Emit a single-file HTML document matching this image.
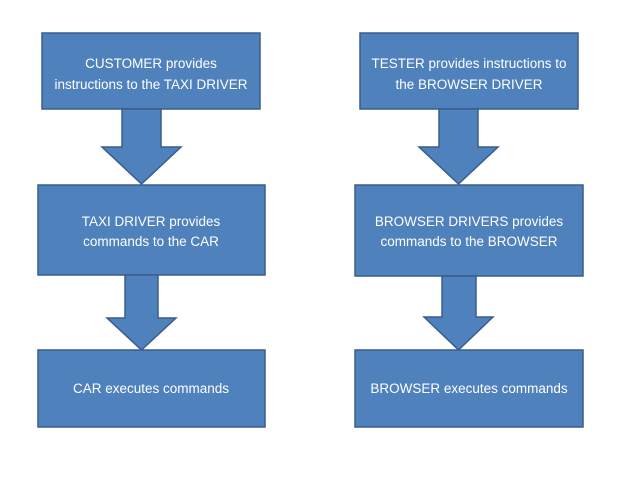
<!DOCTYPE html>
<html><head><style>html,body{margin:0;padding:0;background:#fff}</style></head><body>
<svg width="640" height="480" xmlns="http://www.w3.org/2000/svg" style="display:block">
<g fill="#4F81BD" stroke="#385D8A" stroke-width="1.5">
<rect x="42" y="33" width="218" height="76"/>
<polygon points="122,109 161,109 161,147 181,147 141.5,184 102,147 122,147"/>
<rect x="38" y="185" width="227" height="90"/>
<polygon points="125,275 158,275 158,318 176,318 141.5,350 107,318 125,318"/>
<rect x="38" y="350" width="227" height="77"/>
<rect x="360" y="33" width="218" height="76"/>
<polygon points="439,109 478,109 478,147 498,147 458.5,184 419,147 439,147"/>
<rect x="355" y="185" width="228" height="91"/>
<polygon points="442,276 476,276 476,317 493,317 458.5,350 424,317 442,317"/>
<rect x="355" y="350" width="228" height="77"/>
</g>
<g fill="#fff" font-family="Liberation Sans, sans-serif" font-size="13.5" text-anchor="middle">
<text x="151" y="68">CUSTOMER provides</text>
<text x="151" y="89">instructions to the TAXI DRIVER</text>
<text x="151" y="226">TAXI DRIVER provides</text>
<text x="151" y="246">commands to the CAR</text>
<text x="151" y="393">CAR executes commands</text>
<text x="469" y="68">TESTER provides instructions to</text>
<text x="469" y="89">the BROWSER DRIVER</text>
<text x="469" y="226">BROWSER DRIVERS provides</text>
<text x="469" y="246">commands to the BROWSER</text>
<text x="469" y="393">BROWSER executes commands</text>
</g>
</svg>
</body></html>
